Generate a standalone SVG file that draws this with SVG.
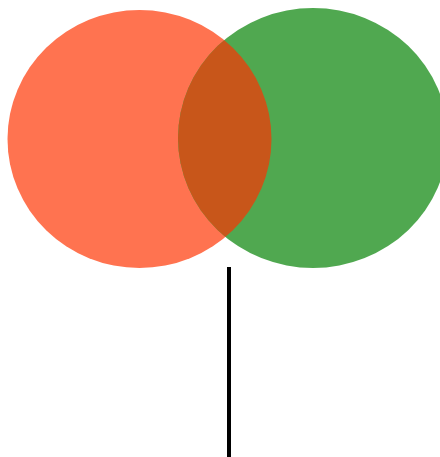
<svg xmlns="http://www.w3.org/2000/svg" width="440" height="457" viewBox="0 0 440 457">
<defs>
<style>
.red{fill:#FF7350}
.green{fill:#50A850}
.overlap{fill:#C8561A}
.conn{stroke:#000;stroke-width:4;fill:none}
</style>
<clipPath id="clipGreen"><ellipse cx="313" cy="138" rx="135" ry="130"/></clipPath>
</defs>
<g id="circleA"><ellipse class="red" cx="139.5" cy="139" rx="132" ry="129"/></g>
<g id="circleB"><ellipse class="green" cx="313" cy="138" rx="135" ry="130"/></g>
<g id="intersection"><ellipse class="overlap" cx="139.5" cy="139" rx="132" ry="129" clip-path="url(#clipGreen)"/></g>
<g id="connectors"><line class="conn" x1="229" y1="267" x2="229" y2="457"/></g>
</svg>
